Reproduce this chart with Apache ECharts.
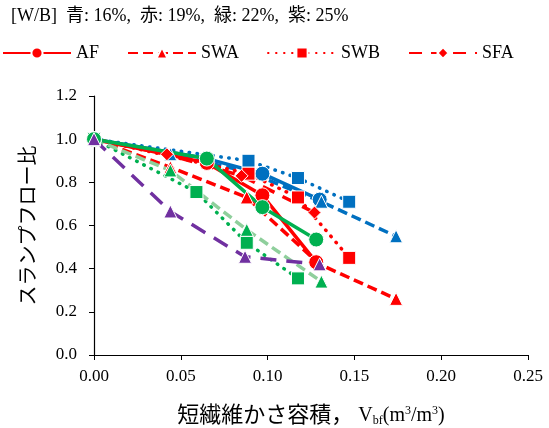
<!DOCTYPE html>
<html>
<head>
<meta charset="utf-8">
<script src="https://cdn.jsdelivr.net/npm/echarts@6/dist/echarts.min.js"></script>
<style>
  html, body { margin: 0; padding: 0; background: #fff; }
  #chart { width: 549px; height: 428px; }
</style>
</head>
<body>
<div id="chart"></div>
<script>
// [V_bf, slump flow ratio]
const blueAF  = [[0, 1.0], [0.065, 0.91], [0.097, 0.84], [0.13, 0.72]];
const blueSWA = [[0, 1.0], [0.044, 0.93], [0.088, 0.85], [0.131, 0.71], [0.174, 0.55]];
const blueSWB = [[0, 1.0], [0.089, 0.90], [0.1175, 0.82], [0.147, 0.71]];

const redAF  = [[0, 1.0], [0.065, 0.89], [0.097, 0.74], [0.128, 0.43]];
const redSWA = [[0, 1.0], [0.044, 0.87], [0.088, 0.73], [0.13, 0.42], [0.174, 0.26]];
const redSWB = [[0, 1.0], [0.089, 0.84], [0.1175, 0.73], [0.147, 0.45]];
const redSFA = [[0, 1.0], [0.042, 0.93], [0.085, 0.83], [0.127, 0.66]];

const greenAF  = [[0, 1.0], [0.065, 0.91], [0.097, 0.685], [0.128, 0.535]];
const greenSWA = [[0, 1.0], [0.044, 0.855], [0.088, 0.58], [0.131, 0.34]];
const greenSWB = [[0, 1.0], [0.059, 0.755], [0.088, 0.52], [0.1175, 0.355]];

const purpleSWA = [[0, 1.0], [0.044, 0.665], [0.087, 0.455], [0.13, 0.42]];

const legendNames = ["AF", "SWA", "SWB", "SFA"];
const titleText = "[W/B]  青: 16%,  赤: 19%,  緑: 22%,  紫: 25%";

const BLUE = "#0070C0", RED = "#FF0000", GREEN = "#00B050", PURPLE = "#7030A0", LIGHTGREEN = "#8FCF9C";
const FONT = "'Liberation Serif', 'Noto Sans CJK JP', serif";

// line style presets per specimen type
function styleFor(kind) {
  if (kind === "AF")  return { type: "solid", symbol: "circle", size: 15 };
  if (kind === "SWA") return { type: [10, 5], symbol: "triangle", size: 13 };
  if (kind === "SWB") return { type: [0.5, 7.5], symbol: "rect", size: 13, cap: "round" };
  return { type: [13, 9], symbol: "diamond", size: 13 };
}

function mk(name, kind, data, color, lineColor) {
  const s = styleFor(kind);
  return {
    name: name,
    type: "line",
    data: data,
    symbol: s.symbol,
    symbolSize: s.size,
    showSymbol: true,
    animation: false,
    lineStyle: { color: lineColor || color, width: 3.5, type: s.type, cap: s.cap || "butt" },
    itemStyle: { color: color, borderColor: "#fff", borderWidth: 1 }
  };
}

const series = [
  mk("AF-b", "AF", blueAF, BLUE),
  mk("SWA-b", "SWA", blueSWA, BLUE),
  mk("SWB-b", "SWB", blueSWB, BLUE),
  mk("SWB", "SWB", redSWB, RED),
  mk("SWA", "SWA", redSWA, RED),
  mk("SFA", "SFA", redSFA, RED),
  mk("AF", "AF", redAF, RED),
  mk("SWB-g", "SWB", greenSWB, GREEN),
  mk("SWA-g", "SWA", greenSWA, GREEN, LIGHTGREEN),
  mk("AF-g", "AF", greenAF, GREEN),
  Object.assign(mk("SWA-p", "SWA", purpleSWA, PURPLE), {
    lineStyle: { color: PURPLE, width: 3.5, type: [16, 10] }
  })
];

const chart = echarts.init(document.getElementById("chart"));
chart.setOption({
  backgroundColor: "#fff",
  textStyle: { fontFamily: FONT },
  title: {
    text: titleText,
    left: 6, top: 2,
    textStyle: { fontFamily: FONT, fontSize: 18, fontWeight: "normal", color: "#000" }
  },
  legend: {
    data: legendNames,
    left: 2, top: 44, padding: 0,
    itemWidth: 68, itemHeight: 14, itemGap: 28,
    textStyle: { fontFamily: FONT, fontSize: 18, color: "#000" }
  },
  grid: { left: 94, right: 21, top: 96, bottom: 73, outerBoundsMode: "none" },
  xAxis: {
    type: "value", min: 0, max: 0.25, interval: 0.05,
    axisLine: { lineStyle: { color: "#000", width: 1.2 } },
    axisTick: { show: true, length: 5, lineStyle: { color: "#000" } },
    splitLine: { show: false },
    axisLabel: { color: "#000", fontSize: 17, fontFamily: FONT, margin: 13,
      formatter: v => v.toFixed(2) },
    name: "{j|短繊維かさ容積，}{a| V}{s|bf}{a|(m}{p|3}{a|/m}{p|3}{a|)}",
    nameLocation: "middle", nameGap: 50,
    nameTextStyle: {
      rich: {
        j: { fontFamily: FONT, fontSize: 22, color: "#000" },
        a: { fontFamily: FONT, fontSize: 20, color: "#000" },
        s: { fontFamily: FONT, fontSize: 12, color: "#000", verticalAlign: "bottom", padding: [9, 0, 0, 0] },
        p: { fontFamily: FONT, fontSize: 12, color: "#000", verticalAlign: "top", padding: [0, 0, 8, 0] }
      }
    }
  },
  yAxis: {
    type: "value", min: 0, max: 1.2, interval: 0.2,
    axisLine: { show: true, lineStyle: { color: "#000", width: 1.2 } },
    axisTick: { show: true, length: 5, lineStyle: { color: "#000" } },
    splitLine: { show: false },
    axisLabel: { color: "#000", fontSize: 17, fontFamily: FONT, margin: 17,
      formatter: v => v.toFixed(1) },
    name: "スランプフロー比",
    nameLocation: "middle", nameGap: 54, nameRotate: 90,
    nameTextStyle: { fontFamily: FONT, fontSize: 20, color: "#000" }
  },
  series: series
});
</script>
</body>
</html>
